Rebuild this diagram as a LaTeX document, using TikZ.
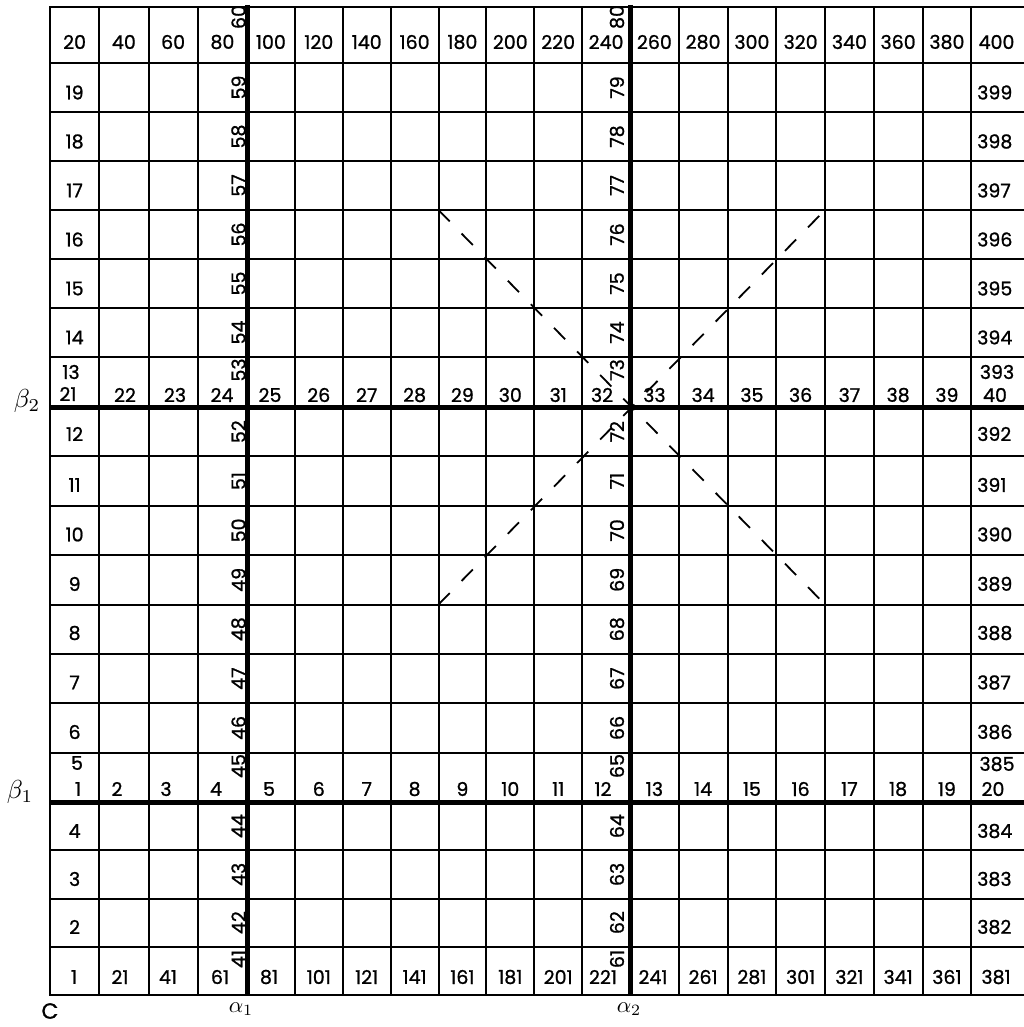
\documentclass[tikz,border=0pt]{standalone}
\usepackage{fontspec}
\newfontfamily\labfont{Poppins}[FakeBold=1]
\tikzset{
  lab/.style={font=\labfont\fontsize{19}{19}\selectfont, inner sep=0pt, anchor=center},
  rlab/.style={lab, rotate=90},
  gr/.style={inner sep=0pt, scale=2.25},
  grb/.style={inner sep=0pt, scale=2.6},
  gridline/.style={line width=2pt},
  frameline/.style={line width=2.4pt},
  heavy/.style={line width=5pt},
  dsh/.style={line width=1.8pt, dash pattern=on 16pt off 17pt}
}
\begin{document}
\begin{tikzpicture}[x=1pt,y=-1pt]
\useasboundingbox (0,0) rectangle (1024,1027);
\fill[white] (0,0) rectangle (1024,1027);
% thin grid lines
\foreach \x in {99.25,148.5,197.75,294.875,342.75,390.625,438.5,486.375,534.25,582.125,678.75,727.5,776.25,825,873.75,922.5,971.25}
  \draw[gridline] (\x,7) -- (\x,995);
\foreach \y in {63,112,161,210,259,308,357,456.375,505.75,555.125,604.5,653.875,703.25,752.625,850.25,898.5,946.75}
  \draw[gridline] (50,\y) -- (1030,\y);
\draw[frameline] (50,7) rectangle (1032,995);
% dashed X
\coordinate (xa) at (438.5,210);
\coordinate (xb) at (825,604.5);
\coordinate (xc) at (438.5,604.5);
\coordinate (xd) at (825,210);
\draw[dsh] (xa) -- (xb);
\draw[dsh] (xc) -- (xd);
% heavy lines
\draw[heavy] (247,5) -- (247,995);
\draw[heavy] (630,5) -- (630,995);
\draw[heavy] (50,407) -- (1030,407);
\draw[heavy] (50,802) -- (1030,802);
% top row
\foreach \j/\x in {0/74.6,1/123.9,2/173.1,3/222.4,4/270.9,5/318.8,6/366.7,7/414.6,8/462.4,9/510.3,10/558.2,11/606.1,12/654.4,13/703.1,14/751.9,15/800.6,16/849.4,17/898.1,18/946.9,19/996.5}{
  \pgfmathtruncatemacro\v{20*(\j+1)}
  \node[lab] (top\j) at (\x,42) {\v};
}
% bottom row
\foreach \j/\x in {0/74,1/120,2/168,3/220,4/269,5/318.8,6/366.7,7/414.6,8/462.4,9/510.3,10/558.2,11/603,12/653,13/703.1,14/751.9,15/800.6,16/849.4,17/898.1,18/946.9,19/996}{
  \pgfmathtruncatemacro\v{20*\j+1}
  \node[lab] (bot\j) at (\x,977) {\v};
}
% row beta2
\foreach \j/\x in {1/125,2/175,3/222,4/270,5/318.8,6/366.7,7/414.6,8/462.4,9/510.3,10/558.2,11/602,12/654.4,13/703.1,14/751.9,15/800.6,16/849.4,17/898.1,18/946.9}{
  \pgfmathtruncatemacro\v{21+\j}
  \node[lab] (m\j) at (\x,395) {\v};
}
% row beta1
\foreach \j/\x in {1/117,2/166,3/216,4/269,5/318.8,6/366.7,7/414.6,8/462.4,9/510.3,10/558.2,11/603,12/654.4,13/703.1,14/751.9,15/800.6,16/849.4,17/898.1,18/946.9}{
  \pgfmathtruncatemacro\v{1+\j}
  \node[lab] (n\j) at (\x,789) {\v};
}
% left and right columns
\foreach \r/\y in {19/92.5,18/141.5,17/190.5,16/239.5,15/288.5,14/337.5,12/434,11/485,10/534.5,9/584,8/633,7/682.5,6/732,4/831,3/879,2/927}{
  \pgfmathtruncatemacro\v{380+\r}
  \node[lab] (lc\r) at (74.6,\y) {\r};
  \node[lab,anchor=west] (rc\r) at (977,\y) {\v};
}
\node[lab] (lc13) at (71,372) {13};
\node[lab] (m0) at (68,394) {21};
\node[lab] (lc5) at (77,763) {5};
\node[lab] (n0) at (78,789) {1};
\node[lab] (rc13) at (997,372) {393};
\node[lab] (m19) at (995,395) {40};
\node[lab] (rc5) at (997,764) {385};
\node[lab] (n19) at (993,789) {20};
% rotated labels along alpha lines
\foreach \r/\y in {20/17,19/87.5,18/136.5,17/185.5,16/234.5,15/283.5,14/332.5,13/370,12/431.7,11/481.1,10/530.4,9/579.8,8/629.2,7/678.6,6/727.9,5/766,4/826.1,3/874.4,2/922.6,1/959}{
  \pgfmathtruncatemacro\va{40+\r}
  \pgfmathtruncatemacro\vb{60+\r}
  \node[rlab] (va\r) at (238.5,\y) {\va};
  \node[rlab] (vb\r) at (617,\y) {\vb};
}
% axis labels
\node[grb] (beta2) at (27,401) {$\beta_2$};
\node[grb] (beta1) at (20,792) {$\beta_1$};
\node[gr] (alpha1) at (241,1009) {$\alpha_1$};
\node[gr] (alpha2) at (629,1009) {$\alpha_2$};
\node[lab,font=\labfont\fontsize{22}{22}\selectfont] (corner) at (50,1011) {C};
\end{tikzpicture}
\end{document}
